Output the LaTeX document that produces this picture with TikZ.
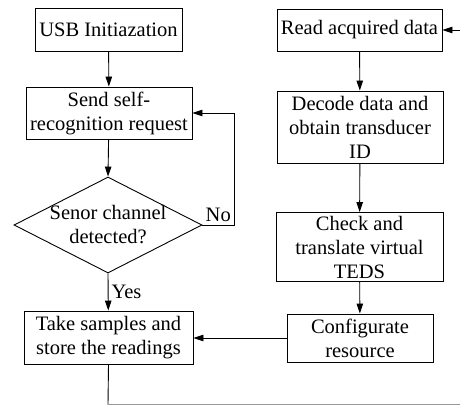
\documentclass[tikz,border=0pt]{standalone}
\usepackage{fontspec}
\setmainfont{Liberation Serif}
\usetikzlibrary{arrows.meta,shapes.geometric}
\begin{document}
\begin{tikzpicture}[x=1pt,y=-1pt,
  box/.style={draw, line width=0.9pt, inner sep=0pt, align=center, font=\fontsize{20.5}{24}\selectfont},
  lbl/.style={inner sep=0pt, font=\fontsize{20.5}{24}\selectfont},
  arr/.style={line width=0.9pt, -{Triangle[length=10pt,width=6.5pt]}},
  ln/.style={line width=0.9pt}]
\useasboundingbox (0,0) rectangle (460,406);
% left column
\node[box, minimum width=147pt, minimum height=43pt] (usb) at (108.5,29.5) {USB Initiazation};
\node[box, minimum width=166pt, minimum height=52pt] (send) at (109,113) {Send self-\\recognition request};
\node[draw, diamond, line width=0.9pt, minimum width=188pt, minimum height=96pt, inner sep=0pt] (dec) at (108,225) {};
\node[lbl, align=center] (dect) at (108,225) {Senor channel\\detected?};
\node[box, minimum width=169pt, minimum height=53pt] (take) at (108.5,337.5) {Take samples and\\store the readings};
% right column
\node[box, minimum width=165pt, minimum height=42pt] (read) at (359.5,30) {Read acquired data};
\node[box, minimum width=166pt, minimum height=72pt] (decode) at (360,127) {Decode data and\\obtain transducer\\ID};
\node[box, minimum width=167pt, minimum height=69pt] (check) at (359.5,247) {Check and\\translate virtual\\TEDS};
\node[box, minimum width=146pt, minimum height=48pt] (conf) at (360,338) {Configurate\\resource};
% connectors
\draw[arr] (usb) -- (send);
\draw[arr] (send) -- (dec.north);
\draw[arr] (dec.south) -- node[lbl, right=3pt] {Yes} (take);
\coordinate (nc) at (234,225);
\draw[arr] (dec.east) -- node[lbl, above=3pt] {No} (nc) |- (send.east);
\draw[arr] (read) -- (decode);
\draw[arr] (decode) -- (check);
\draw[arr] (check) -- (conf);
\draw[arr] (conf.west) -- (conf.west -| take.east);
\coordinate (rin) at (460,30);
\draw[arr] (rin) -- (read.east);
\coordinate (bl) at (108,404.5);
\coordinate (br) at (460,404.5);
\draw[ln] (take.south) -- (bl);
\draw[ln, black!40] (bl) -- (br);
\end{tikzpicture}
\end{document}
